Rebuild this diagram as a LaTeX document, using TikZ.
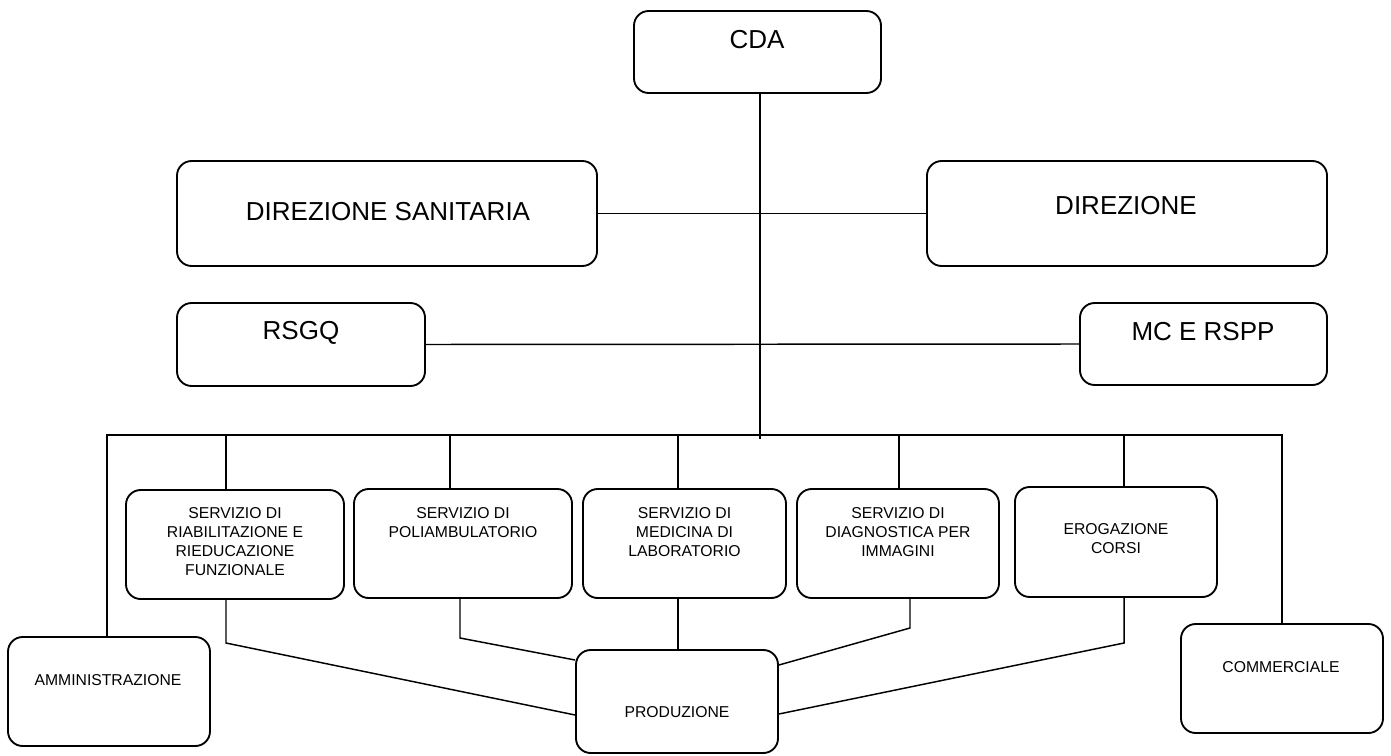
\documentclass[tikz,border=0pt]{standalone}
\usepackage{fontspec}
\setmainfont{Liberation Sans}
\usetikzlibrary{fit}
\begin{document}
\begin{tikzpicture}[x=0.75pt,y=-0.75pt,
  box/.style={draw=black,line width=1.4pt,rounded corners=11pt,inner sep=0pt},
  conn/.style={draw=black,line width=1.1pt},
  bigtxt/.style={inner sep=0pt,font=\fontsize{19.5}{23}\selectfont},
  smalltxt/.style={inner sep=0pt,align=center,font=\fontsize{11.8}{14.25}\selectfont}]
\useasboundingbox[fill=white] (0,0) rectangle (1391,756);
% boxes
\node[box,fit={(634,11)(881,93)}] (cda) {};
\node[box,fit={(177,161)(597,266)}] (ds) {};
\node[box,fit={(927,161)(1327,266)}] (dir) {};
\node[box,fit={(177,303)(425,386)}] (rsgq) {};
\node[box,fit={(1080,303)(1327,385)}] (mc) {};
\node[box,fit={(126,490)(344,599)}] (sr) {};
\node[box,fit={(354,489)(572,598)}] (pol) {};
\node[box,fit={(583,489)(786,598)}] (med) {};
\node[box,fit={(797,489)(999,598)}] (diag) {};
\node[box,fit={(1015,487)(1217,597)}] (erog) {};
\node[box,fit={(8,637)(210,746)}] (adm) {};
\node[box,fit={(576,650)(778,753)}] (prod) {};
\node[box,fit={(1181,624)(1383,733)}] (comm) {};
% texts
\node[bigtxt] (cdat) at (757,40) {CDA};
\node[bigtxt] (dst) at (388,212) {DIREZIONE SANITARIA};
\node[bigtxt] (dirt) at (1126,206) {DIREZIONE};
\node[bigtxt] (rsgqt) at (301,333) {RSGQ};
\node[bigtxt] (mct) at (1203,332) {MC E RSPP};
\node[smalltxt] (srt) at (235,542) {SERVIZIO DI\\RIABILITAZIONE E\\RIEDUCAZIONE\\FUNZIONALE};
\node[smalltxt] (polt) at (463,522.5) {SERVIZIO DI\\POLIAMBULATORIO};
\node[smalltxt] (medt) at (684.5,532) {SERVIZIO DI\\MEDICINA DI\\LABORATORIO};
\node[smalltxt] (diagt) at (898,532) {SERVIZIO DI\\DIAGNOSTICA PER\\IMMAGINI};
\node[smalltxt] (erogt) at (1116,539) {EROGAZIONE\\CORSI};
\node[smalltxt] (admt) at (108,680) {AMMINISTRAZIONE};
\node[smalltxt] (prodt) at (677,712) {PRODUZIONE};
\node[smalltxt] (commt) at (1281,667) {COMMERCIALE};
% helper coordinates
\coordinate (cv) at (760,439);
\coordinate (bl) at (107,435);
\coordinate (br) at (1282,435);
\coordinate (t1) at (226,435);
\coordinate (t2) at (450,435);
\coordinate (t3) at (678,435);
\coordinate (t4) at (899,435);
\coordinate (t5) at (1124,435);
\coordinate (k1) at (226,643);
\coordinate (k2) at (460,638);
\coordinate (k3) at (678,650);
\coordinate (k4) at (910,628);
\coordinate (k5) at (1124,643);
\coordinate (p1) at (0,715);
\coordinate (p2) at (0,660);
\coordinate (p4) at (0,665);
\coordinate (p5) at (0,714);
% connectors
\draw[conn] (cda.south -| cv) -- (cv);
\draw[conn] (ds.east) -- (dir.west);
\draw[conn] (rsgq.east) -- (mc.west);
\draw[conn] (adm.north -| bl) -- (bl) -- (br) -- (comm.north -| br);
\draw[conn] (t1) -- (sr.north -| t1);
\draw[conn] (t2) -- (pol.north -| t2);
\draw[conn] (t3) -- (med.north -| t3);
\draw[conn] (t4) -- (diag.north -| t4);
\draw[conn] (t5) -- (erog.north -| t5);
\draw[conn] (sr.south -| k1) -- (k1) -- (prod.west |- p1);
\draw[conn] (pol.south -| k2) -- (k2) -- (prod.west |- p2);
\draw[conn] (med.south -| k3) -- (prod.north -| k3);
\draw[conn] (diag.south -| k4) -- (k4) -- (prod.east |- p4);
\draw[conn] (erog.south -| k5) -- (k5) -- (prod.east |- p5);
\end{tikzpicture}
\end{document}
